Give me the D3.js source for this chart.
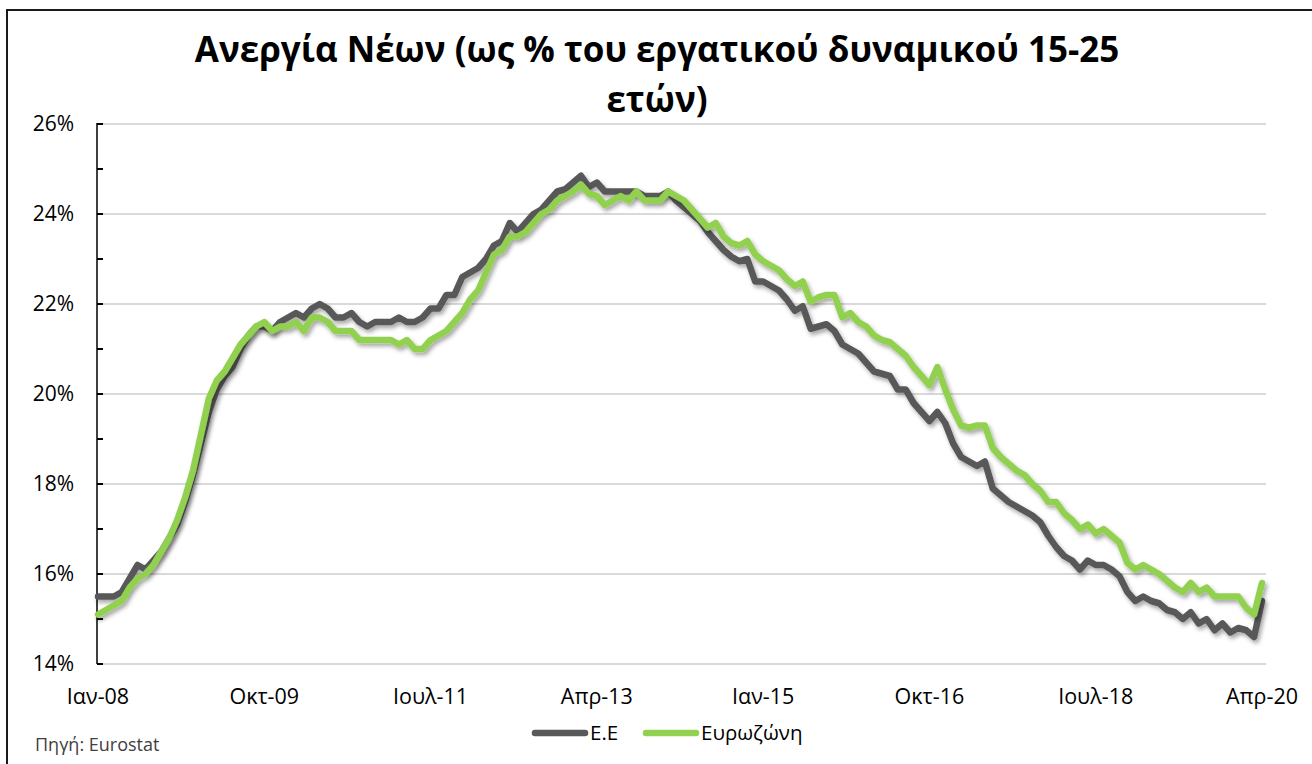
<!DOCTYPE html>
<html>
<head>
<meta charset="utf-8">
<script src="https://cdn.jsdelivr.net/npm/d3@7"></script>
<style>
  html, body { margin: 0; padding: 0; background: #fff; }
  svg { display: block; }
</style>
</head>
<body>
<svg id="chart" width="1312" height="764"></svg>
<script>
// ---------- DATA ----------
const titleLines = ["Ανεργία Νέων (ως % του εργατικού δυναμικού 15-25", "ετών)"];
const monthNames = ["Ιαν","Φεβ","Μαρ","Απρ","Μαϊ","Ιουν","Ιουλ","Αυγ","Σεπ","Οκτ","Νοε","Δεκ"];
const seriesNames = ["Ε.Ε", "Ευρωζώνη"];
const yTickValues = [14, 16, 18, 20, 22, 24, 26];
const yMinorTicks = [14, 15, 16, 17, 18, 19, 20, 21, 22, 23, 24, 25, 26];
const xTickLabels = ["Ιαν-08", "Οκτ-09", "Ιουλ-11", "Απρ-13", "Ιαν-15", "Οκτ-16", "Ιουλ-18", "Απρ-20"];
const sourceText = "Πηγή: Eurostat";

// EU (Ε.Ε), monthly Jan-08 .. Apr-20 (%)
const euValues = [
  15.5, 15.5, 15.5, 15.6, 15.9, 16.2, 16.1, 16.3, 16.5, 16.8, 17.1, 17.6,
  18.2, 18.9, 19.6, 20.1, 20.4, 20.6, 21.0, 21.3, 21.5, 21.5, 21.4, 21.6,
  21.7, 21.8, 21.7, 21.9, 22.0, 21.9, 21.7, 21.7, 21.8, 21.6, 21.5, 21.6,
  21.6, 21.6, 21.7, 21.6, 21.6, 21.7, 21.9, 21.9, 22.2, 22.2, 22.6, 22.7,
  22.8, 23.0, 23.3, 23.4, 23.8, 23.6, 23.8, 24.0, 24.1, 24.3, 24.5, 24.55,
  24.7, 24.85, 24.6, 24.7, 24.5, 24.5, 24.5, 24.5, 24.5, 24.4, 24.4, 24.4,
  24.5, 24.3, 24.15, 24.0, 23.85, 23.6, 23.4, 23.2, 23.05, 22.95, 23.0, 22.5,
  22.5, 22.4, 22.3, 22.1, 21.85, 21.95, 21.45, 21.5, 21.55, 21.4, 21.1, 21.0,
  20.9, 20.7, 20.5, 20.45, 20.4, 20.1, 20.1, 19.8, 19.6, 19.4, 19.6, 19.35,
  18.9, 18.6, 18.5, 18.4, 18.5, 17.9, 17.75, 17.6, 17.5, 17.4, 17.3, 17.15,
  16.85, 16.6, 16.4, 16.3, 16.1, 16.3, 16.2, 16.2, 16.1, 15.95, 15.6, 15.4,
  15.5, 15.4, 15.35, 15.2, 15.15, 15.0, 15.15, 14.9, 15.0, 14.75, 14.9, 14.7,
  14.8, 14.75, 14.6, 15.4
];
// Euro area (Ευρωζώνη), monthly Jan-08 .. Apr-20 (%)
const ezValues = [
  15.1, 15.2, 15.3, 15.4, 15.7, 15.9, 16.0, 16.2, 16.5, 16.8, 17.2, 17.7,
  18.3, 19.1, 19.9, 20.3, 20.5, 20.8, 21.1, 21.3, 21.5, 21.6, 21.4, 21.5,
  21.5, 21.6, 21.4, 21.7, 21.7, 21.6, 21.4, 21.4, 21.4, 21.2, 21.2, 21.2,
  21.2, 21.2, 21.1, 21.2, 21.0, 21.0, 21.2, 21.3, 21.4, 21.6, 21.8, 22.1,
  22.3, 22.7, 23.1, 23.2, 23.5, 23.5, 23.6, 23.8, 24.0, 24.1, 24.3, 24.4,
  24.5, 24.65, 24.45, 24.4, 24.2, 24.3, 24.4, 24.3, 24.5, 24.3, 24.3, 24.3,
  24.5, 24.4, 24.3, 24.1, 23.9, 23.7, 23.8, 23.5, 23.35, 23.3, 23.4, 23.1,
  22.95, 22.85, 22.75, 22.55, 22.4, 22.5, 22.05, 22.15, 22.2, 22.2, 21.7, 21.8,
  21.6, 21.5, 21.3, 21.2, 21.15, 21.0, 20.85, 20.6, 20.4, 20.2, 20.6, 20.1,
  19.65, 19.3, 19.25, 19.3, 19.3, 18.8, 18.6, 18.45, 18.3, 18.2, 18.0, 17.85,
  17.6, 17.6, 17.35, 17.2, 17.0, 17.1, 16.9, 17.0, 16.85, 16.7, 16.25, 16.1,
  16.2, 16.1, 16.0, 15.85, 15.7, 15.6, 15.8, 15.6, 15.7, 15.5, 15.5, 15.5,
  15.5, 15.25, 15.1, 15.8
];

// category labels: one per month
const categories = euValues.map((_, i) => {
  const m = i % 12, y = 8 + Math.floor(i / 12);
  return monthNames[m] + "-" + String(y).padStart(2, "0");
});

// ---------- LAYOUT ----------
const svg = d3.select("#chart");
const FONT = "'Open Sans', 'Noto Sans', 'DejaVu Sans', sans-serif";
const plot = { left: 98, right: 1262, top: 124, bottom: 664, gridRight: 1266 };
const colors = { eu: "#595959", ez: "#92D050", grid: "#d9d9d9", text: "#000" };

svg.append("rect").attr("x", 0).attr("y", 0).attr("width", 1312).attr("height", 764).attr("fill", "#fff");
// chart border (only left/top visible in the crop)
svg.append("rect").attr("x", 7).attr("y", 10).attr("width", 1340).attr("height", 800)
  .attr("fill", "none").attr("stroke", "#1a1a1a").attr("stroke-width", 2);

const x = d3.scalePoint().domain(categories).range([plot.left, plot.right]);
const y = d3.scaleLinear().domain([14, 26]).range([plot.bottom, plot.top]);

// drop shadow filter
const defs = svg.append("defs");
const f = defs.append("filter").attr("id", "shadow").attr("x", "-5%").attr("y", "-5%").attr("width", "110%").attr("height", "115%");
f.append("feDropShadow").attr("dx", 2).attr("dy", 3).attr("stdDeviation", 2)
  .attr("flood-color", "#000").attr("flood-opacity", 0.35);

// gridlines
svg.append("g").selectAll("line").data(yTickValues).join("line")
  .attr("x1", plot.left).attr("x2", plot.gridRight)
  .attr("y1", d => y(d)).attr("y2", d => y(d))
  .attr("stroke", colors.grid).attr("stroke-width", 2);

// y axis line + inward ticks
svg.append("line").attr("x1", plot.left - 1).attr("x2", plot.left - 1)
  .attr("y1", plot.top - 1).attr("y2", plot.bottom)
  .attr("stroke", "#000").attr("stroke-width", 1.5);
svg.append("g").selectAll("line").data(yMinorTicks).join("line")
  .attr("x1", plot.left - 1).attr("x2", plot.left + 5)
  .attr("y1", d => y(d)).attr("y2", d => y(d))
  .attr("stroke", "#000").attr("stroke-width", 2);

// y labels
svg.append("g").selectAll("text").data(yTickValues).join("text")
  .attr("x", 74).attr("y", d => y(d)).attr("dy", "0.35em")
  .attr("text-anchor", "end").attr("font-family", FONT).attr("font-size", 21)
  .attr("fill", colors.text).text(d => d + "%");

// x labels
const xLabelData = xTickLabels.map(l => ({ label: l }));
svg.append("g").selectAll("text").data(xLabelData).join("text")
  .attr("x", d => x(d.label)).attr("y", 704)
  .attr("text-anchor", "middle").attr("font-family", FONT).attr("font-size", 21.5)
  .attr("fill", colors.text).text(d => d.label);

// lines
const line = d3.line().x((d, i) => x(categories[i])).y(d => y(d)).curve(d3.curveLinear);
svg.append("path").datum(euValues).attr("d", line)
  .attr("fill", "none").attr("stroke", colors.eu).attr("stroke-width", 6.5)
  .attr("stroke-linejoin", "round").attr("stroke-linecap", "round").attr("filter", "url(#shadow)");
svg.append("path").datum(ezValues).attr("d", line)
  .attr("fill", "none").attr("stroke", colors.ez).attr("stroke-width", 6.5)
  .attr("stroke-linejoin", "round").attr("stroke-linecap", "round").attr("filter", "url(#shadow)");

// title
svg.append("g").selectAll("text").data(titleLines).join("text")
  .attr("x", 657).attr("y", (d, i) => 62 + i * 50)
  .attr("text-anchor", "middle").attr("font-family", FONT).attr("font-weight", "bold")
  .attr("font-size", 35).attr("fill", colors.text).text(d => d);

// legend
const legend = [
  { name: seriesNames[0], color: colors.eu, x0: 532 },
  { name: seriesNames[1], color: colors.ez, x0: 643 }
];
const lg = svg.append("g");
lg.selectAll("line").data(legend).join("line")
  .attr("x1", d => d.x0 + 3).attr("x2", d => d.x0 + 53)
  .attr("y1", 733).attr("y2", 733)
  .attr("stroke", d => d.color).attr("stroke-width", 6.5).attr("stroke-linecap", "round");
lg.selectAll("text").data(legend).join("text")
  .attr("x", d => d.x0 + 58).attr("y", 733).attr("dy", "0.35em")
  .attr("font-family", FONT).attr("font-size", 20.5).attr("fill", colors.text).text(d => d.name);

// source
svg.append("text").attr("x", 35).attr("y", 745).attr("dy", "0.35em")
  .attr("font-family", FONT).attr("font-size", 18).attr("fill", "#404040").text(sourceText);
</script>
</body>
</html>
